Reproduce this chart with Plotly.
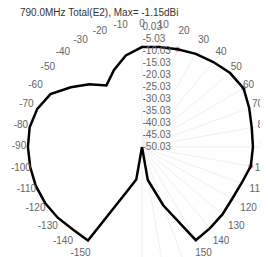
import plotly.graph_objects as go

# Pattern data (dB), clockwise from top, 10-degree steps
angles = [-180, -170, -160, -150, -140, -130, -120, -110, -100, -90, -80, -70, -60, -50, -40, -30, -20, -10,
          0, 10, 20, 30, 40, 50, 60, 70, 80, 90, 100, 110, 120, 130, 140, 150, 160, 170, 180]
gain_db = [-50.03, -36.3, -29.2, -5.0, -5.2, -4.2, -3.4, -2.9, -2.7, -2.5, -2.5, -3.6, -6.0, -11.3, -15.9, -20.4, -15.9, -11.3,
           -8.4, -7.7, -6.7, -5.2, -3.8, -2.1, -1.15, -2.5, -3.6, -3.8, -4.0, -5.9, -6.7, -6.3, -5.9, -5.2, -24.2, -36.1, -50.03]

# pink sample markers seen on the trace
mark_angles = [20, 60, 100]
mark_db = [-6.7, -1.15, -4.0]

radial_ticks = [-50.03, -45.03, -40.03, -35.03, -30.03, -25.03, -20.03, -15.03, -10.03, -5.03, 0.03]
radial_labels = ["-50.03", "-45.03", "-40.03", "-35.03", "-30.03", "-25.03", "-20.03", "-15.03", "-10.03", "-5.03", "0.03"]

angle_ticks = list(range(-170, 190, 10))
angle_labels = [str(a) for a in angle_ticks]

title_text = "790.0MHz Total(E2), Max= -1.15dBi"

W, H = 268, 270
px_per_db = 2.4
r_min, r_max = -50.03, 2.6
R = (r_max - r_min) * px_per_db
cx, cy = 134, 139          # page offset of 8px is added by the browser
label_r = r_min + 123 / px_per_db

fig = go.Figure()
fig.add_trace(go.Scatterpolar(
    r=mark_db, theta=mark_angles, mode="markers",
    marker=dict(color="#e0409a", size=5, opacity=0.6), hoverinfo="skip", showlegend=False))
fig.add_trace(go.Scatterpolar(
    r=gain_db, theta=angles, mode="lines",
    line=dict(color="black", width=2.5), hoverinfo="skip", showlegend=False))
fig.add_trace(go.Scatterpolar(
    r=[label_r] * len(angle_ticks), theta=angle_ticks, mode="text",
    text=angle_labels, textposition="middle center", cliponaxis=False,
    textfont=dict(family="Liberation Sans, Arial", size=10, color="#666666"),
    hoverinfo="skip", showlegend=False))

fig.update_layout(
    width=W, height=H,
    margin=dict(l=0, r=0, t=0, b=0),
    paper_bgcolor="white", plot_bgcolor="white",
    font=dict(family="Liberation Sans, Arial", size=10, color="#666666"),
    polar=dict(
        domain=dict(x=[(cx - R) / W, (cx + R) / W], y=[(H - cy - R) / H, (H - cy + R) / H]),
        bgcolor="white",
        angularaxis=dict(rotation=90, direction="clockwise", tickmode="array",
                         tickvals=angle_ticks, showticklabels=False, ticks="",
                         showline=False, showgrid=True, gridcolor="#f0f0f0", gridwidth=1),
        radialaxis=dict(range=[r_min, r_max], angle=90, tickangle=90, tickmode="array",
                        tickvals=radial_ticks, ticktext=radial_labels, ticks="",
                        showline=False, showgrid=False,
                        tickfont=dict(size=10, color="#666666")),
    ),
    annotations=[dict(text=title_text, x=10 / W, y=1 - 4.5 / H, xref="paper", yref="paper",
                      xanchor="left", yanchor="middle", showarrow=False,
                      font=dict(family="Liberation Sans, Arial", size=10, color="#333333"))],
)

fig.write_html("out.html")
